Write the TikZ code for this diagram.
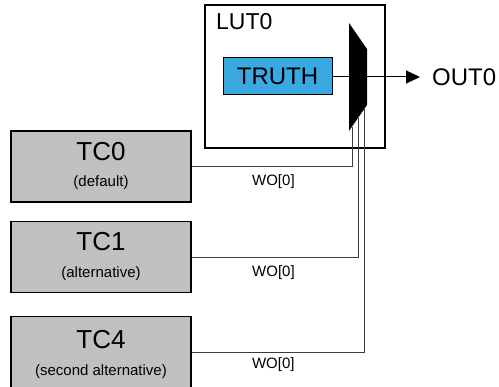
\documentclass[tikz,border=0pt]{standalone}
\usepackage{fontspec}
\setmainfont{Liberation Sans}
\usepackage{xcolor}
\usetikzlibrary{arrows.meta, calc}

\definecolor{truthblue}{HTML}{3AA9E1}
\definecolor{tcgray}{HTML}{C0C0C0}
\definecolor{wiregray}{HTML}{3C3C3C}

\tikzset{
    tcbox/.style={draw=black, line width=1.1pt, fill=tcgray, minimum width=180pt, minimum height=71pt, inner sep=0pt},
    wire/.style={draw=wiregray, line width=0.8pt},
    big/.style={font=\fontsize{26}{26}\selectfont},
    small/.style={font=\fontsize{15}{15}\selectfont}
}

\begin{document}
\begin{tikzpicture}[x=1pt, y=-1pt]

    \useasboundingbox (0, 0) rectangle (499, 387);

    % LUT box
    \node (lut) [draw, line width=1.1pt, minimum width=180pt, minimum height=143pt, inner sep=0pt] at (295, 76.5) {};
    \node (lutlabel) [anchor=north west, inner sep=0pt, font=\fontsize{23}{23}\selectfont] at (216, 13) {LUT0};
    \node (truth) [draw, line width=1pt, fill=truthblue, minimum width=109pt, minimum height=37pt, inner sep=0pt, font=\fontsize{24}{24}\selectfont] at (277.5, 76.5) {TRUTH};

    % mux corners
    \coordinate (mtl) at (349, 23);
    \coordinate (mtr) at (367, 49);
    \coordinate (mbr) at (367, 105);
    \coordinate (mbl) at (349, 131);

    % timer/counter boxes
    \node (tc0) [tcbox] at (101, 166.5) {};
    \node [big] at ([yshift=15pt]tc0.center) {TC0};
    \node [small] at ([yshift=-16pt]tc0.center) {(default)};

    \node (tc1) [tcbox] at (101, 257) {};
    \node [big] at ([yshift=15pt]tc1.center) {TC1};
    \node [small] at ([yshift=-17pt]tc1.center) {(alternative)};

    \node (tc4) [tcbox] at (101, 352) {};
    \node [big] at ([yshift=12pt]tc4.center) {TC4};
    \node [small] at ([yshift=-20pt]tc4.center) {(second alternative)};

    % wires into the mux
    \draw[wire] (tc0.east) -| ($(mbl)!0.17!(mbr)$) node[pos=0.255, yshift=-15pt, small] {WO[0]};
    \draw[wire] (tc1.east) -| ($(mbl)!0.5!(mbr)$) node[pos=0.246, yshift=-16pt, small] {WO[0]};
    \draw[wire] (tc4.east) -| ($(mbl)!0.83!(mbr)$) node[pos=0.237, yshift=-13pt, small] {WO[0]};

    \draw[line width=1pt] (truth.east) -- (truth.east -| mtl);
    \fill[black] (mtl) -- (mtr) -- (mbr) -- (mbl) -- cycle;

    % output
    \node (out0) [anchor=west, inner sep=0pt, font=\fontsize{24}{24}\selectfont] at (432, 77) {OUT0};
    \draw[line width=1pt, -{Triangle[length=14pt, width=13pt]}] (367, 77) -- ([xshift=-12pt]out0.west);

\end{tikzpicture}
\end{document}
